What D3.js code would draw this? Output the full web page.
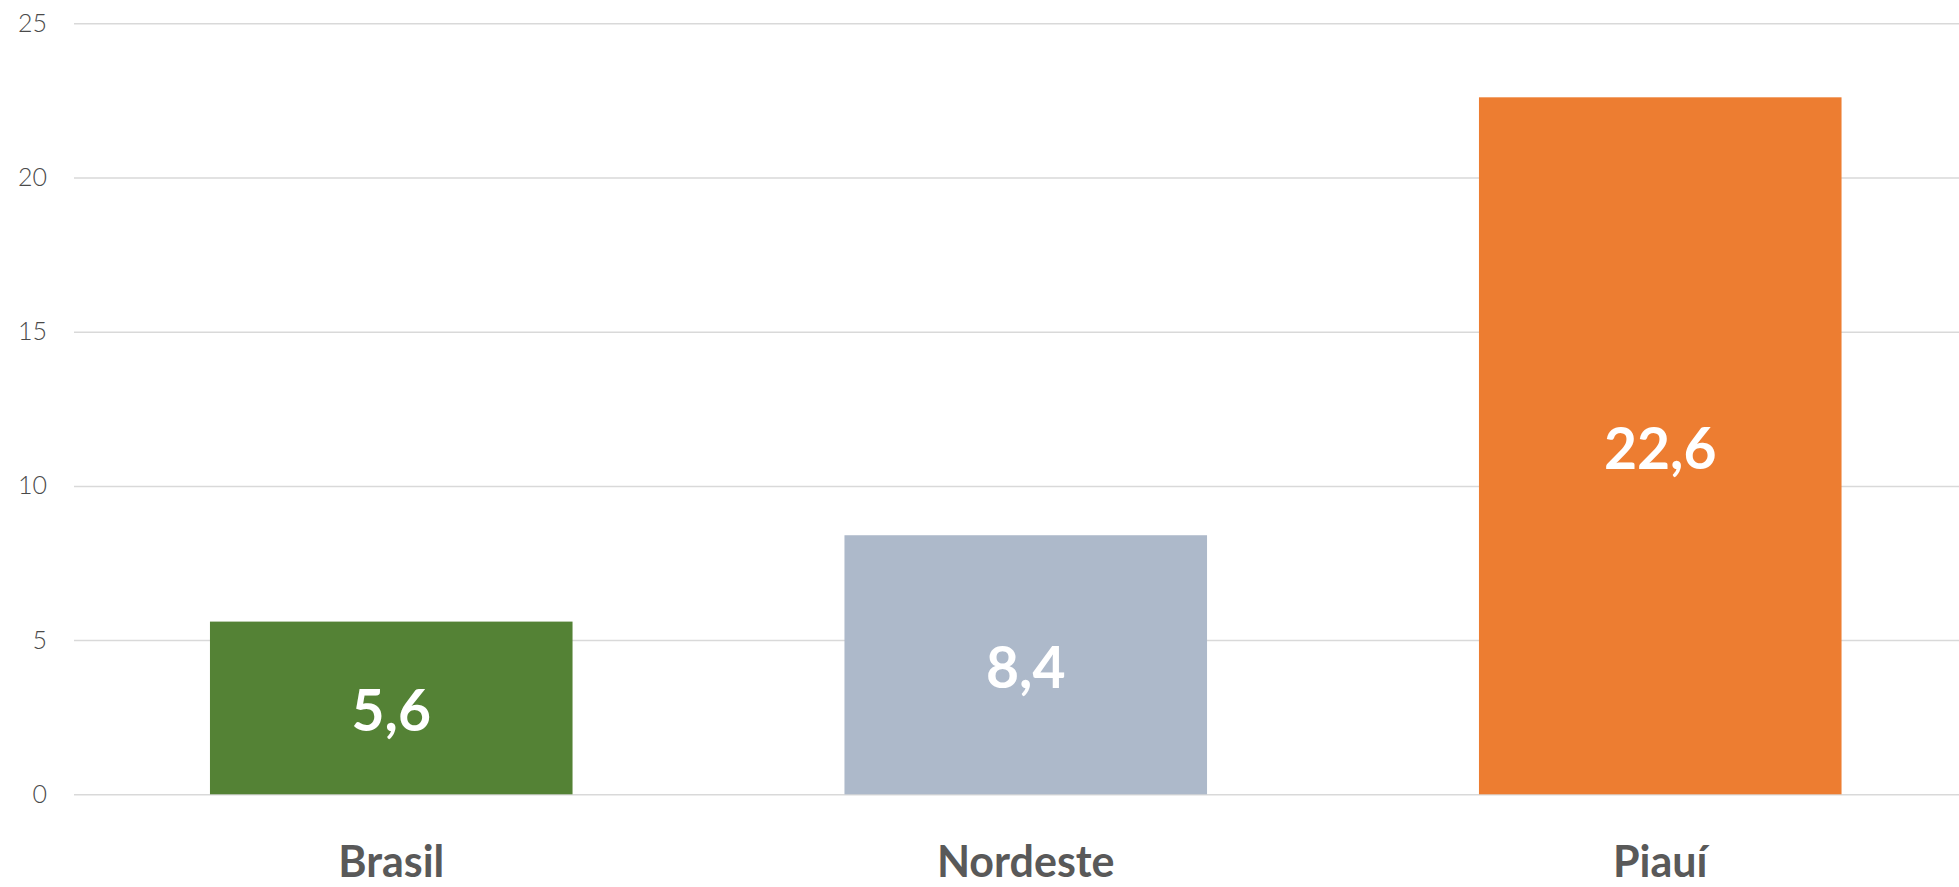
<!DOCTYPE html>
<html>
<head>
<meta charset="utf-8">
<script src="https://cdn.jsdelivr.net/npm/d3@7"></script>
<style>
  html, body { margin: 0; padding: 0; background: #ffffff; }
  svg { display: block; }
</style>
</head>
<body>
<svg id="chart" width="1959" height="887"></svg>
<script>
const categories = ["Brasil", "Nordeste", "Piauí"];
const values = [5.6, 8.4, 22.6];
const barColors = ["#548235", "#adb9ca", "#ed7d31"];
const yTicks = [0, 5, 10, 15, 20, 25];

const W = 1959, H = 887;
const plotLeft = 74, plotRight = 1977.5, plotTop = 23.3, plotBottom = 794.3;

const svg = d3.select("#chart");

const x = d3.scaleBand()
  .domain(categories)
  .range([plotLeft, plotRight])
  .paddingInner(3 / 7)
  .paddingOuter(3 / 14);

const y = d3.scaleLinear().domain([0, 25]).range([plotBottom, plotTop]);

// Y axis with gridlines
const yAxis = d3.axisLeft(y)
  .tickValues(yTicks)
  .tickSize(-(W - plotLeft))
  .tickPadding(27)
  .tickFormat(d3.format("d"));

const gy = svg.append("g")
  .attr("transform", `translate(${plotLeft},0)`)
  .call(yAxis);
gy.select(".domain").remove();
gy.selectAll(".tick line")
  .attr("stroke", "#d9d9d9")
  .attr("stroke-width", 1.5);
gy.selectAll(".tick text")
  .attr("fill", "#4a4a4a")
  .style("font-family", "Lato, 'Open Sans', sans-serif")
  .style("font-weight", 300)
  .style("font-size", "25px");

// Bars
svg.append("g").selectAll("rect")
  .data(categories)
  .join("rect")
  .attr("x", d => x(d))
  .attr("width", x.bandwidth())
  .attr("y", (d, i) => y(values[i]))
  .attr("height", (d, i) => y(0) - y(values[i]))
  .attr("fill", (d, i) => barColors[i]);

// Value labels
svg.append("g").selectAll("text")
  .data(categories)
  .join("text")
  .attr("x", d => x(d) + x.bandwidth() / 2)
  .attr("y", (d, i) => (y(values[i]) + y(0)) / 2 + 23)
  .attr("text-anchor", "middle")
  .attr("fill", "#ffffff")
  .style("font-family", "Lato, 'Open Sans', sans-serif")
  .style("font-weight", 700)
  .style("font-size", "57px")
  .text((d, i) => d3.format(".1f")(values[i]).replace(".", ","));

// Category labels
svg.append("g").selectAll("text")
  .data(categories)
  .join("text")
  .attr("x", d => x(d) + x.bandwidth() / 2)
  .attr("y", 877)
  .attr("text-anchor", "middle")
  .attr("fill", "#595959")
  .style("font-family", "Lato, 'Open Sans', sans-serif")
  .style("font-weight", 700)
  .style("font-size", "43px")
  .text(d => d);
</script>
</body>
</html>
